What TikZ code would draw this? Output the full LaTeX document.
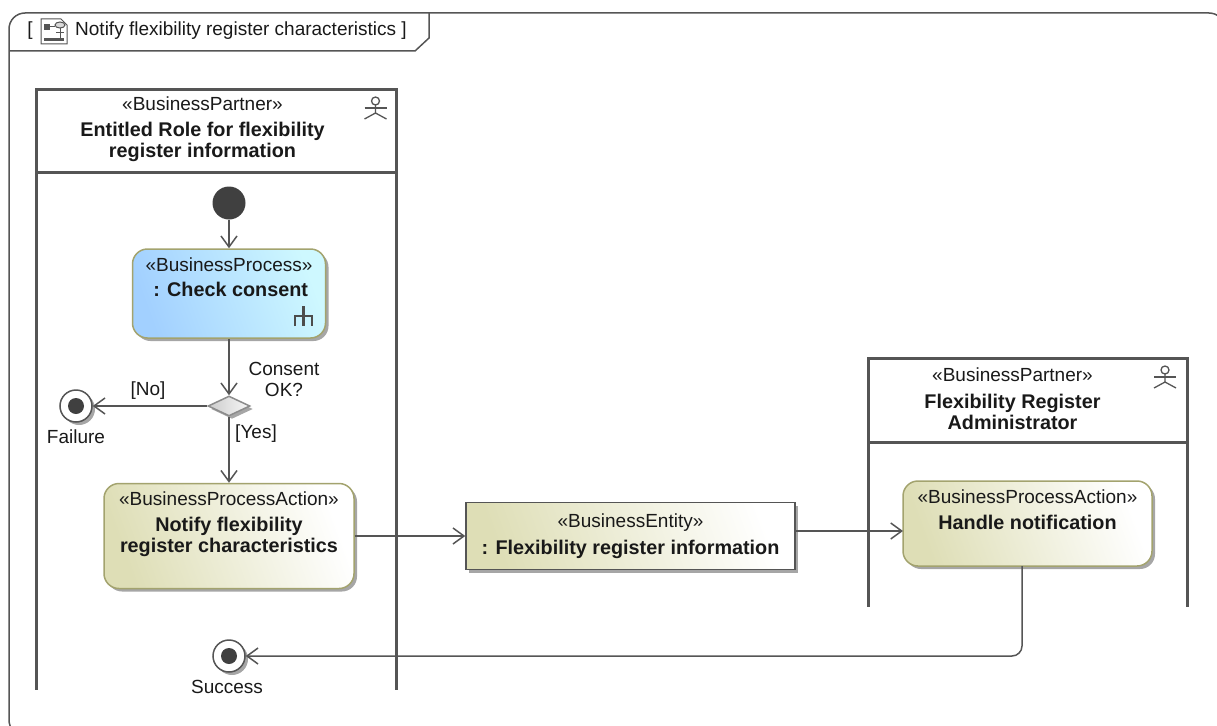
\documentclass[tikz,border=0pt]{standalone}
\usepackage{fontspec}
\setmainfont{Liberation Sans}
\usetikzlibrary{shapes.geometric, arrows.meta, shadows}
\definecolor{linegray}{HTML}{555555}
\definecolor{olive}{HTML}{A3A36E}
\definecolor{olivefill}{HTML}{DEDEB6}
\definecolor{bluefill}{HTML}{A2D0FF}
\definecolor{cyanfill}{HTML}{CEF8FF}
\tikzstyle{boxshadow} = [drop shadow={shadow xshift=3pt, shadow yshift=-3pt, fill=black!35, opacity=1}]
\tikzstyle{txt} = [inner sep=0pt, align=center, font=\fontsize{19}{21}\selectfont, text=black!90]
\tikzstyle{lanehead} = [rectangle, draw=linegray, line width=3pt, fill=white, outer sep=0pt]
\tikzstyle{laneside} = [draw=linegray, line width=3pt]
\tikzstyle{process} = [rectangle, rounded corners=15pt, draw=olive, line width=1.5pt, boxshadow, align=center, inner sep=0pt, font=\fontsize{19}{21}\selectfont, text=black!90]
\tikzstyle{action} = [process, left color=olivefill, right color=white, shading angle=110]
\tikzstyle{entity} = [process, rounded corners=0pt, draw=linegray, left color=olivefill, right color=white, shading angle=110]
\tikzstyle{startnode} = [circle, fill=black!75, minimum size=33pt, inner sep=0pt]
\tikzstyle{endnode} = [circle, draw=linegray, line width=1.5pt, fill=white, minimum size=32pt, inner sep=0pt, boxshadow]
\tikzstyle{enddot} = [circle, fill=black!75, minimum size=16pt, inner sep=0pt]
\tikzstyle{decision} = [diamond, draw=black!45, line width=1.5pt, left color=black!20, right color=black!3, minimum width=42pt, minimum height=20pt, inner sep=0pt, boxshadow]
\tikzstyle{arrow} = [draw=linegray, line width=1.5pt, ->, >={Straight Barb[length=11pt,width=16pt]}]
\tikzstyle{icon} = [draw=linegray, line width=1.3pt]
\newcommand{\nm}[1]{{\fontsize{19.8}{21}\selectfont\bfseries #1}}
\newcommand{\actoricon}[1]{
    \draw [icon] (#1) ++(0,-7) circle (4pt);
    \draw [icon] (#1) ++(0,-3) -- ++(0,8) -- ++(-11,6) ++(11,-6) -- ++(11,6);
    \draw [icon] (#1) ++(-11,0) -- ++(22,0);
}
\begin{document}
\begin{tikzpicture}[x=1pt,y=-1pt]
    \useasboundingbox (0,0) rectangle (1217,725);
    % frame and its tab
    \draw [linegray, line width=1.5pt, rounded corners=16pt] (9,736) rectangle (1225,13);
    \draw [linegray, line width=1.5pt] (9,51) -- (415,51) -- (429,38) -- (429,13);
    \node [txt, anchor=center] at (30,31) (open) {[};
    \draw [linegray, line width=1pt, fill=white] (41,19) -- (61,19) -- (67,25) -- (67,44) -- (41,44) -- cycle;
    \fill [linegray] (44,24) rectangle (50,30);
    \fill [linegray] (44,38) rectangle (64,41);
    \draw [linegray, line width=1pt, fill=black!15] (60,25) ellipse (5pt and 3pt);
    \draw [linegray, line width=1pt] (50,27) -- (55,27) (60,28) -- (60,38) (56,33) -- (64,33);
    \node [txt, anchor=west] at (75,30.5) (title) {Notify flexibility register characteristics ]};

    % swimlanes
    \node [lanehead, minimum width=360pt, minimum height=83pt] at (216,130.5) (lanea) {};
    \node [lanehead, minimum width=319pt, minimum height=84pt] at (1027.5,400) (laneb) {};
    \coordinate (aleft) at (36,690);
    \coordinate (aright) at (396,690);
    \coordinate (bleft) at (868,607);
    \coordinate (bright) at (1187,607);
    \draw [laneside] (lanea.south west) -- (aleft);
    \draw [laneside] (lanea.south east) -- (aright);
    \draw [laneside] (laneb.south west) -- (bleft);
    \draw [laneside] (laneb.south east) -- (bright);
    \node [txt] at (202.5,129) (lineatxt) {«BusinessPartner»\\[5pt]\nm{Entitled Role for flexibility}\\\nm{register information}};
    \node [txt] at (1012.5,399) (linebtxt) {«BusinessPartner»\\[6pt]\nm{Flexibility Register}\\\nm{Administrator}};
    \actoricon{375.5,108}
    \actoricon{1165,377}

    % nodes
    \node [startnode] at (229,203) (start) {};
    \node [process, left color=bluefill, right color=cyanfill, shading angle=110, minimum width=193pt, minimum height=89pt] at (229,293.5) (consent) {«BusinessProcess»\\[4pt]\nm{\,: Check consent}\\[11pt]\mbox{}};
    \node [decision] at (229,406) (okay) {};
    \node [endnode] at (76,406) (failure) {};
    \node [enddot] at (76,406) (failuredot) {};
    \node [txt] at (76,437) (failuretxt) {Failure};
    \node [action, minimum width=250pt, minimum height=105pt] at (229,536) (notify) {«BusinessProcessAction»\\[5pt]\nm{Notify flexibility}\\\nm{register characteristics}\\[7pt]\mbox{}};
    \node [entity, minimum width=329pt, minimum height=67pt] at (630.5,536) (info) {«BusinessEntity»\\[6pt]\nm{: Flexibility register information}};
    \node [action, minimum width=249pt, minimum height=85pt] at (1027.5,523.5) (handle) {«BusinessProcessAction»\\[5pt]\nm{Handle notification}\\[6pt]\mbox{}};
    \node [endnode] at (229,656) (success) {};
    \node [enddot] at (229,656) (successdot) {};
    \node [txt] at (227,687) (successtxt) {Success};
    \draw [black!70, line width=2.6pt] (303.5,306) -- (303.5,326) (295,326) -- (295,316) -- (312,316) -- (312,326);

    % connector labels
    \node [txt] at (148,391) (nolabel) {[No]};
    \node [txt] at (256,434) (yeslabel) {[Yes]};
    \node [txt] at (284,379.5) (oklabel) {Consent\\OK?};

    % connectors
    \coordinate (handlein) at (903,531);
    \coordinate (handleout) at (1022,566);
    \draw [arrow] (start) -- (consent);
    \draw [arrow] (consent) -- (okay);
    \draw [arrow] (okay) -- (failure);
    \draw [arrow] (okay) -- (notify);
    \draw [arrow] (notify) -- (info);
    \draw [arrow] (info.east |- handlein) -- (handlein);
    \draw [arrow, rounded corners=10pt] (handleout) |- (success);
\end{tikzpicture}
\end{document}
